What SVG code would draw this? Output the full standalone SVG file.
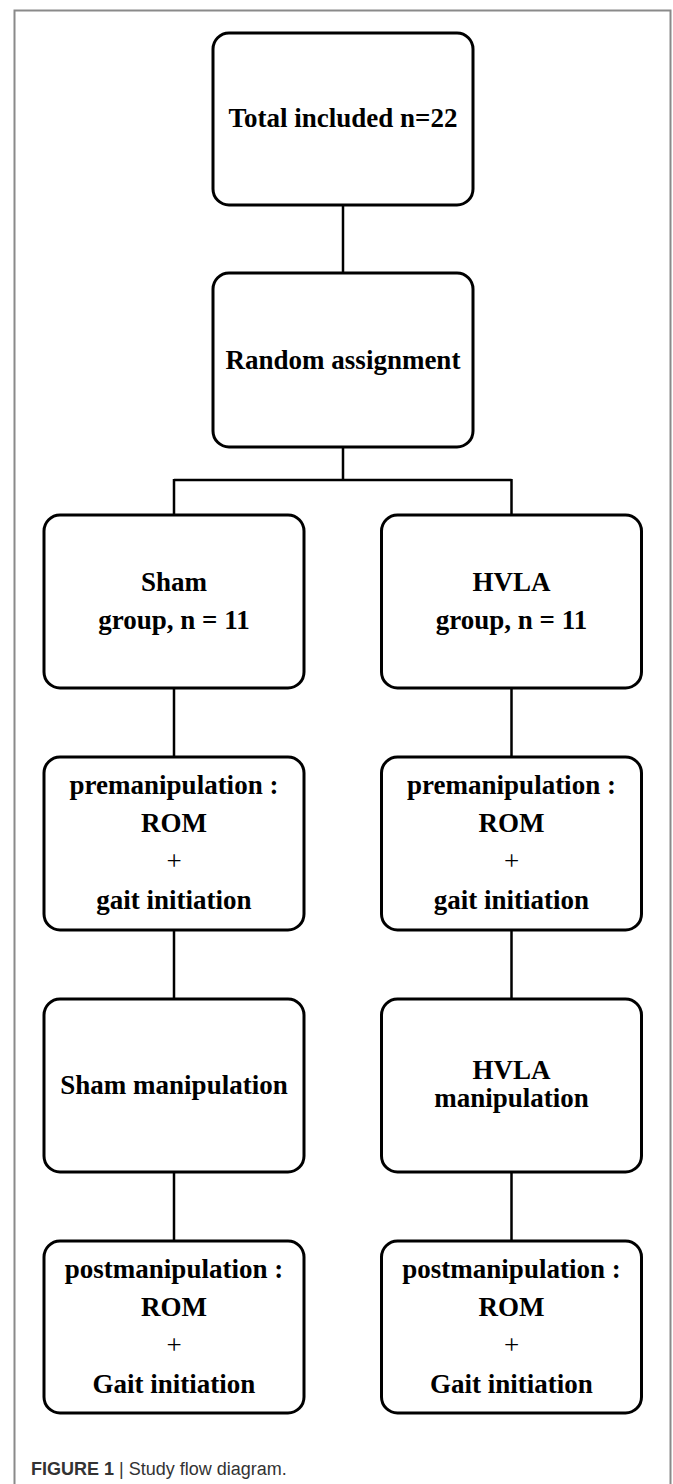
<svg xmlns="http://www.w3.org/2000/svg" width="673" height="1484" viewBox="0 0 673 1484">
<style>
.box{fill:#fff;stroke:#000;stroke-width:3}
.t{font-family:"Liberation Serif","Times New Roman",serif;font-weight:bold;font-size:27px;fill:#000;text-anchor:middle}
.p{font-family:"Liberation Serif","Times New Roman",serif;font-weight:normal;font-size:27px;fill:#000;text-anchor:middle}
.c{fill:none;stroke:#000;stroke-width:2.5}
.cap{font-family:"Liberation Sans",Arial,sans-serif;font-size:18px;fill:#333}
</style>
<rect width="673" height="1484" fill="#fff"/>
<path d="M14.5 1484 V10.5 H670.5 V1484" fill="none" stroke="#8a8a8a" stroke-width="2"/>
<g id="connectors">
<path class="c" d="M343 205 V273"/>
<path class="c" d="M343 447 V480 M174 480 H511.5 M174 479 V515 M511.5 479 V515"/>
<path class="c" d="M174 688 V757 M511.5 688 V757"/>
<path class="c" d="M174 930 V999 M511.5 930 V999"/>
<path class="c" d="M174 1172 V1241 M511.5 1172 V1241"/>
</g>
<g id="total">
<rect class="box" x="213" y="33" width="260" height="172" rx="16"/>
<text class="t" x="343" y="127">Total included n=22</text>
</g>
<g id="random">
<rect class="box" x="213" y="273" width="260" height="174" rx="16"/>
<text class="t" x="343" y="369">Random assignment</text>
</g>
<g id="sham-group">
<rect class="box" x="44" y="515" width="260" height="173" rx="16"/>
<text class="t" x="174" y="591">Sham</text>
<text class="t" x="174" y="629">group, n = 11</text>
</g>
<g id="hvla-group">
<rect class="box" x="381.5" y="515" width="260" height="173" rx="16"/>
<text class="t" x="511.5" y="591">HVLA</text>
<text class="t" x="511.5" y="629">group, n = 11</text>
</g>
<g id="sham-pre">
<rect class="box" x="44" y="757" width="260" height="173" rx="16"/>
<text class="t" x="174" y="794">premanipulation :</text>
<text class="t" x="174" y="832">ROM</text>
<text class="p" x="174" y="870">+</text>
<text class="t" x="174" y="909">gait initiation</text>
</g>
<g id="hvla-pre">
<rect class="box" x="381.5" y="757" width="260" height="173" rx="16"/>
<text class="t" x="511.5" y="794">premanipulation :</text>
<text class="t" x="511.5" y="832">ROM</text>
<text class="p" x="511.5" y="870">+</text>
<text class="t" x="511.5" y="909">gait initiation</text>
</g>
<g id="sham-manip">
<rect class="box" x="44" y="999" width="260" height="173" rx="16"/>
<text class="t" x="174" y="1094">Sham manipulation</text>
</g>
<g id="hvla-manip">
<rect class="box" x="381.5" y="999" width="260" height="173" rx="16"/>
<text class="t" x="511.5" y="1079">HVLA</text>
<text class="t" x="511.5" y="1107">manipulation</text>
</g>
<g id="sham-post">
<rect class="box" x="44" y="1241" width="260" height="172" rx="16"/>
<text class="t" x="174" y="1278">postmanipulation :</text>
<text class="t" x="174" y="1316">ROM</text>
<text class="p" x="174" y="1354">+</text>
<text class="t" x="174" y="1393">Gait initiation</text>
</g>
<g id="hvla-post">
<rect class="box" x="381.5" y="1241" width="260" height="172" rx="16"/>
<text class="t" x="511.5" y="1278">postmanipulation :</text>
<text class="t" x="511.5" y="1316">ROM</text>
<text class="p" x="511.5" y="1354">+</text>
<text class="t" x="511.5" y="1393">Gait initiation</text>
</g>
<text class="cap" x="31" y="1475"><tspan font-weight="bold">FIGURE 1</tspan> | Study flow diagram.</text>
</svg>
